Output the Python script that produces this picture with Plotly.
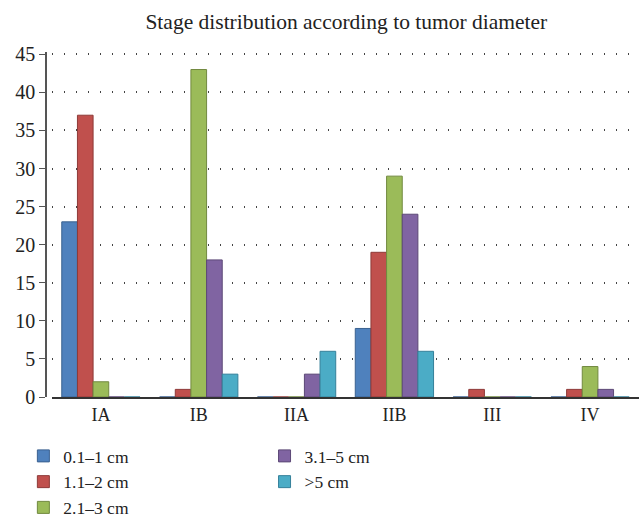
import plotly.graph_objects as go

categories = ["IA", "IB", "IIA", "IIB", "III", "IV"]
series_names = ["0.1–1 cm", "1.1–2 cm", "2.1–3 cm", "3.1–5 cm", ">5 cm"]
v_01_1 = [23, 0, 0, 9, 0, 0]
v_11_2 = [37, 1, 0, 19, 1, 1]
v_21_3 = [2, 43, 0, 29, 0, 4]
v_31_5 = [0, 18, 3, 24, 0, 1]
v_gt5 = [0, 3, 6, 6, 0, 0]
values = [v_01_1, v_11_2, v_21_3, v_31_5, v_gt5]
colors = ["#4F81BD", "#C0504D", "#9BBB59", "#8064A2", "#4BACC6"]
edges = ["#3A6190", "#8E3A38", "#71893F", "#5C4876", "#35809A"]

font_family = "Liberation Serif, DejaVu Serif, serif"

fig = go.Figure()
for i, (name, vals) in enumerate(zip(series_names, values)):
    fig.add_trace(go.Bar(
        x=categories, y=vals, name=name,
        marker=dict(color=colors[i], line=dict(color=edges[i], width=1)),
        legend="legend" if i < 3 else "legend2",
    ))

fig.update_layout(
    width=639, height=517,
    margin=dict(l=46, r=0, t=52, b=120, autoexpand=False),
    paper_bgcolor="white", plot_bgcolor="white",
    barmode="group", bargap=0.2, bargroupgap=0,
    font=dict(family=font_family, size=17, color="#222"),
    title=dict(text="Stage distribution according to tumor diameter",
               x=0.542, xanchor="center", y=1 - 21 / 517, yanchor="middle",
               font=dict(size=21.5, color="#222")),
    xaxis=dict(domain=[6 / 593, 1], showline=True, linecolor="#333", linewidth=2,
               ticks="", tickfont=dict(size=18), showgrid=False),
    yaxis=dict(anchor="free", position=0,
               range=[0, 45.3], tickvals=[0, 5, 10, 15, 20, 25, 30, 35, 40, 45],
               showline=True, linecolor="#555",
               linewidth=1.5, ticks="outside", ticklen=6, tickcolor="#555",
               showgrid=True, gridcolor="#444", gridwidth=1.5,
               griddash="1px,11px", zeroline=False, tickfont=dict(size=20)),
    legend=dict(x=(0.035 * 639 + 1) / 639, y=1 - 438 / 517, xref="container", yref="container",
                xanchor="left", yanchor="top", orientation="v",
                font=dict(size=17.5), tracegroupgap=0, itemwidth=30,
                bgcolor="rgba(0,0,0,0)"),
    legend2=dict(x=(0.414 * 639 + 0) / 639, y=1 - 438 / 517, xref="container", yref="container",
                 xanchor="left", yanchor="top", orientation="v",
                 font=dict(size=17.5), tracegroupgap=0, itemwidth=30,
                 bgcolor="rgba(0,0,0,0)"),
    showlegend=True,
)

fig.write_html("out.html", config={"displayModeBar": False},
               post_script="document.body.style.margin='0';")
